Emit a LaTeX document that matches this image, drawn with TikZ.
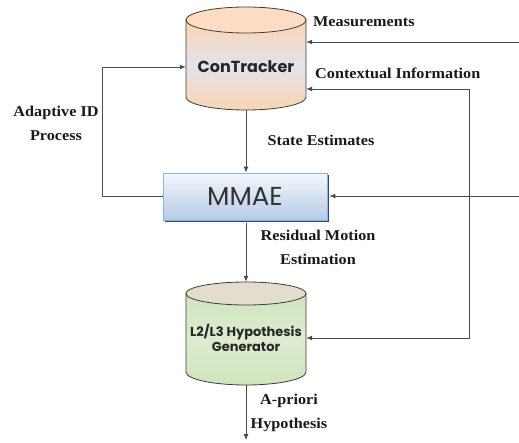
\documentclass[tikz,border=0pt]{standalone}
\usepackage{fontspec}
\newfontfamily\gothic{Poppins}
\newfontfamily\labelserif[FakeStretch=1.08]{Liberation Serif}
\usetikzlibrary{arrows.meta,shadows}

\definecolor{linegray}{HTML}{4A4A4A}
\definecolor{outline}{HTML}{3C3C3C}
\definecolor{peachtop}{HTML}{FCDCC2}
\definecolor{peachbody}{HTML}{FAD5B4}
\definecolor{peachmid}{HTML}{E4E2E9}
\definecolor{gentop}{HTML}{E2DECB}
\definecolor{genbody}{HTML}{D0E4BD}
\definecolor{genmid}{HTML}{DDEBD0}
\definecolor{boxtop}{HTML}{F4F7FC}
\definecolor{boxbottom}{HTML}{B6CAE5}
\definecolor{boxedge}{HTML}{8DB3E2}
\definecolor{boxshadow}{HTML}{2B4A78}

\begin{document}
\begin{tikzpicture}[x=1pt,y=-1pt,
  conn/.style={draw=linegray, line width=0.9pt},
  arr/.style={conn, -{Latex[length=6pt,width=5pt]}},
  lbl/.style={font=\labelserif\bfseries\fontsize{15}{16}\selectfont, text=black!90, inner sep=0pt},
  cylbox/.style={minimum width=120pt, inner sep=0pt, draw=none},
  cyltext/.style={font=\gothic\bfseries\fontsize{#1}{#1}\selectfont, text=black!85, inner sep=0pt, align=center},
  mmaebox/.style={minimum width=164pt, minimum height=47pt, inner sep=0pt,
    draw=boxedge, line width=0.8pt, top color=boxtop, bottom color=boxbottom,
    drop shadow={fill=boxshadow, opacity=1, shadow xshift=2pt, shadow yshift=-2.5pt},
    font=\gothic\fontsize{26}{26}\selectfont, text=black!80}]
\useasboundingbox (0,0) rectangle (519,443);

% ConTracker cylinder
\shade[top color=peachbody, bottom color=peachbody, middle color=peachmid, draw=outline, line width=0.8pt]
  (186,20) -- (186,97) arc[start angle=180, end angle=0, x radius=60, y radius=13] -- (306,20) -- cycle;
\draw[fill=peachtop, draw=outline, line width=0.8pt] (246,20) ellipse [x radius=60, y radius=13];
\node[cylbox, minimum height=103pt] (ct) at (246,58.5) {};
\node[cyltext=16] (ctlbl) at (246,67) {ConTracker};

% hypothesis generator cylinder
\shade[top color=genbody, bottom color=genbody, middle color=genmid, draw=outline, line width=0.8pt]
  (186,293.5) -- (186,372) arc[start angle=180, end angle=0, x radius=60, y radius=13] -- (306,293.5) -- cycle;
\draw[fill=gentop, draw=outline, line width=0.8pt] (246,293.5) ellipse [x radius=60, y radius=11.5];
\node[cylbox, minimum height=103pt] (gen) at (246,333.5) {};
\node[cyltext=13] (genlbl) at (246,337.5) {L2/L3 Hypothesis\\[2pt]Generator};

% MMAE block
\node[mmaebox] (mmae) at (245,196.5) {MMAE};

% free ends of the outside inputs and the output
\coordinate (meas) at (519,42);
\coordinate (ctx) at (469,89);
\coordinate (ctxlow) at (469,338);
\coordinate (mmaein) at (519,196);
\coordinate (out) at (246,440);

% connectors
\draw[arr] (ct.south) -- (ct.south |- mmae.north);
\draw[arr] (mmae.west) -- ++(-60,0) |- (ct.west |- ctlbl);
\draw[arr] (meas) -- (ct.east |- meas);
\draw[arr] (ctx) -- (ct.east |- ctx);
\draw[arr] (ctx) -- (ctxlow) -- (gen.east |- ctxlow);
\draw[arr] (mmaein) -- ([xshift=2pt]mmae.east |- mmaein);
\draw[arr] (gen.north |- mmae.south) ++(0,2.5) -- (gen.north);
\draw[arr] (gen.south) -- (out);

% labels
\node[lbl, anchor=west] (lmeas) at (313,22) {Measurements};
\node[lbl, anchor=west] (lctx) at (315,73) {Contextual Information};
\node[lbl] (lstate) at (321,140) {State Estimates};
\node[lbl, align=center] (ladapt) at (56,123.5) {Adaptive ID\\[8pt]Process};
\node[lbl, align=center] (lres) at (318,247) {Residual Motion\\[8pt]Estimation};
\node[lbl, align=center] (lprior) at (289,412.5) {A-priori\\[8pt]Hypothesis};
\end{tikzpicture}
\end{document}
